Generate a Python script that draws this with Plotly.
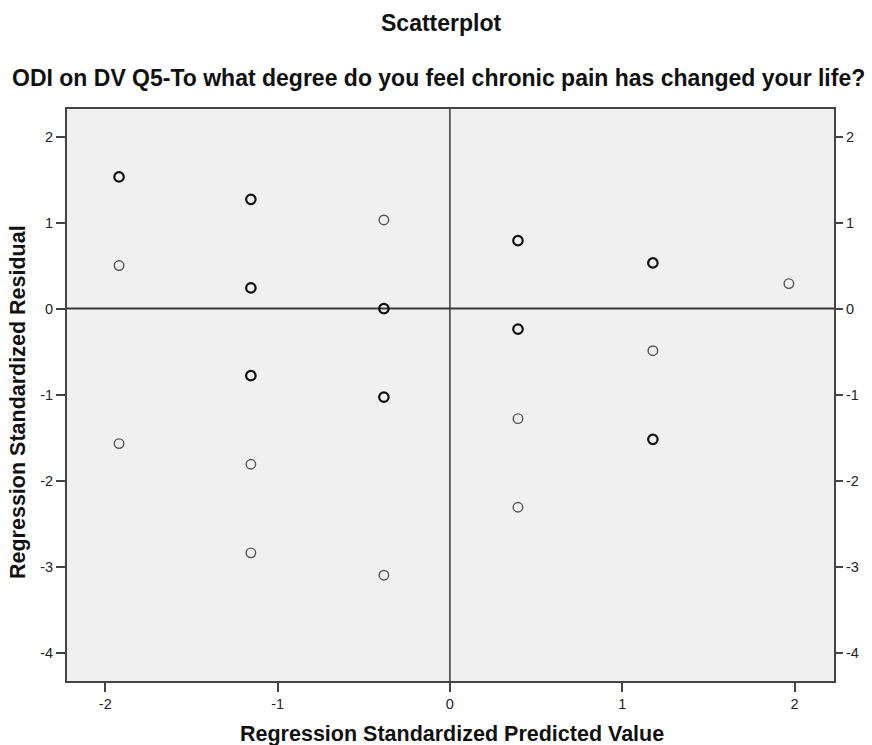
import plotly.graph_objects as go

# Regression standardized predicted values (x) and residuals (y)
pred_values = [-1.92, -1.92, -1.92,
               -1.155, -1.155, -1.155, -1.155, -1.155,
               -0.383, -0.383, -0.383, -0.383,
               0.395, 0.395, 0.395, 0.395,
               1.178, 1.178, 1.178,
               1.967]
residuals = [1.53, 0.50, -1.57,
             1.27, 0.24, -0.78, -1.81, -2.84,
             1.03, 0.00, -1.03, -3.10,
             0.79, -0.24, -1.28, -2.31,
             0.53, -0.49, -1.52,
             0.29]
# 2 = overlapping cases (drawn bolder), 1 = single case
case_counts = [2, 1, 1,
               2, 2, 2, 1, 1,
               1, 2, 2, 1,
               2, 2, 1, 1,
               2, 1, 2,
               1]
y_ticks = [-4, -3, -2, -1, 0, 1, 2]
y_tick_labels = ["-4", "-3", "-2", "-1", "0", "1", "2"]
x_ticks = [-2, -1, 0, 1, 2]
x_tick_labels = ["-2", "-1", "0", "1", "2"]

title_text = "Scatterplot"
subtitle_text = "ODI on DV Q5-To what degree do you feel chronic pain has changed your life?"
x_title = "Regression Standardized Predicted Value"
y_title = "Regression Standardized Residual"

FONT = "Liberation Sans, Arial, sans-serif"
W, H = 872, 745
ML, MR, MT, MB = 67, 38, 109, 64

line_widths = [2.2 if c > 1 else 1.4 for c in case_counts]
line_colors = ["#111111" if c > 1 else "#555555" for c in case_counts]

fig = go.Figure()
fig.add_trace(go.Scatter(
    x=pred_values, y=residuals, mode="markers",
    marker=dict(symbol="circle-open", size=9.5,
                color=line_colors,
                line=dict(width=line_widths, color=line_colors)),
    showlegend=False, hoverinfo="x+y"))
# invisible trace to activate right-hand axis
fig.add_trace(go.Scatter(x=[pred_values[0]], y=[residuals[0]], yaxis="y2",
                         mode="markers", marker=dict(opacity=0),
                         showlegend=False, hoverinfo="skip"))

xr = [-2.222, 2.229]
yr = [-4.33, 2.32]

fig.add_shape(type="line", x0=0, x1=0, y0=yr[0], y1=yr[1], xref="x", yref="y",
              line=dict(color="#3a3a3a", width=1.5), layer="below")
fig.add_shape(type="line", x0=xr[0], x1=xr[1], y0=0, y1=0, xref="x", yref="y",
              line=dict(color="#3a3a3a", width=2), layer="below")

tickfont = dict(size=14.5, family=FONT, color="#222222")
fig.update_layout(
    width=W, height=H,
    margin=dict(l=ML, r=MR, t=MT, b=MB, autoexpand=False),
    paper_bgcolor="white", plot_bgcolor="#f0f0f0",
    font=dict(family=FONT, color="#222222", size=12),
    xaxis=dict(range=xr, tickvals=x_ticks, ticktext=x_tick_labels, showgrid=False, zeroline=False,
               showline=True, linecolor="#444444", linewidth=2, mirror=True,
               ticks="outside", ticklen=9, tickwidth=2, tickcolor="#444444",
               tickfont=tickfont, automargin=False),
    yaxis=dict(range=yr, tickvals=y_ticks, ticktext=y_tick_labels, showgrid=False, zeroline=False,
               showline=True, linecolor="#444444", linewidth=2, mirror=True,
               ticks="outside", ticklen=9, tickwidth=2, tickcolor="#444444",
               tickfont=tickfont, automargin=False),
    yaxis2=dict(range=yr, tickvals=y_ticks, ticktext=y_tick_labels, overlaying="y", side="right",
                showgrid=False, zeroline=False, showline=False,
                ticks="outside", ticklen=8, tickwidth=2, tickcolor="#444444",
                tickfont=tickfont, automargin=False),
)

plot_h = H - MT - MB
plot_w = W - ML - MR
def px_to_paper_x(px):
    return (px - ML) / plot_w
def px_to_paper_y(py):
    return (H - MB - py) / plot_h

common = dict(xref="paper", yref="paper", showarrow=False, xanchor="center", yanchor="middle")
fig.add_annotation(text="<b>" + title_text + "</b>", x=px_to_paper_x(441), y=px_to_paper_y(23),
                   font=dict(size=23, family=FONT, color="#111111"), **common)
fig.add_annotation(text="<b>" + subtitle_text + "</b>", x=px_to_paper_x(438), y=px_to_paper_y(78),
                   font=dict(size=23, family=FONT, color="#111111"), **common)
fig.add_annotation(text="<b>" + x_title + "</b>", x=px_to_paper_x(452), y=px_to_paper_y(734),
                   font=dict(size=21.5, family=FONT, color="#111111"), **common)
fig.add_annotation(text="<b>" + y_title + "</b>", x=px_to_paper_x(18), y=px_to_paper_y(402),
                   textangle=-90, font=dict(size=21.5, family=FONT, color="#111111"), **common)

fig.write_html("out.html", config={"displayModeBar": False},
               post_script="document.body.style.margin='0';document.body.style.overflow='hidden';")
